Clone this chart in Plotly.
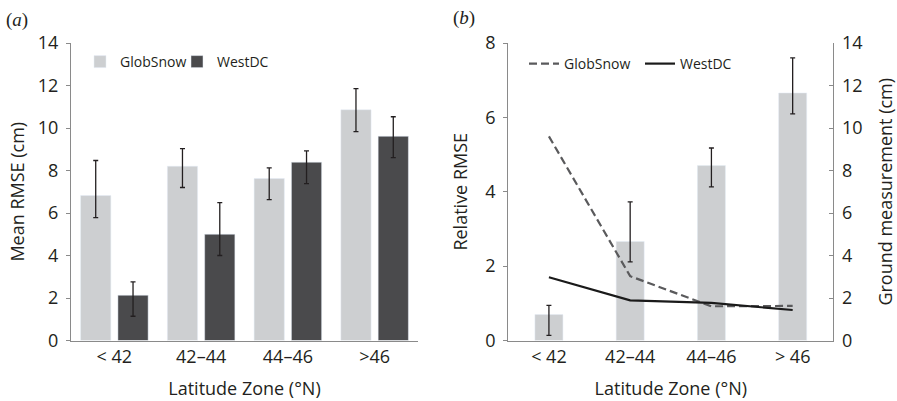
import plotly.graph_objects as go

# ---- data ----
zones_a = ["< 42", "42\u201344", "44\u201346", ">46"]
zones_b = ["< 42", "42\u201344", "44\u201346", "> 46"]

gs_rmse = [6.82, 8.20, 7.62, 10.86]
gs_err_plus = [1.65, 0.83, 0.50, 0.99]
gs_err_minus = [1.04, 1.00, 0.99, 1.03]

wd_rmse = [2.13, 5.00, 8.39, 9.61]
wd_err_plus = [0.63, 1.49, 0.53, 0.92]
wd_err_minus = [0.99, 1.00, 1.01, 1.00]

ground = [1.22, 4.66, 8.23, 11.65]
ground_err_plus = [0.43, 1.86, 0.83, 1.65]
ground_err_minus = [0.98, 0.96, 1.00, 0.99]

rel_gs = [5.49, 1.73, 0.92, 0.93]
rel_wd = [1.70, 1.08, 1.01, 0.82]

# ---- styles ----
LIGHT = "#cdcfd1"
DARK = "#4a4a4c"
TXT = "#231f20"
AX = "#8a8a8a"
FONT = "Open Sans"

W, H = 897, 401

def err(plus, minus):
    return dict(type="data", symmetric=False, array=plus, arrayminus=minus,
                color=TXT, thickness=1.3, width=2.5)

fig = go.Figure()

fig.add_trace(go.Bar(x=zones_a, y=gs_rmse, name="GlobSnow", marker_color=LIGHT,
                     error_y=err(gs_err_plus, gs_err_minus), xaxis="x", yaxis="y",
                     legend="legend"))
fig.add_trace(go.Bar(x=zones_a, y=wd_rmse, name="WestDC", marker_color=DARK,
                     error_y=err(wd_err_plus, wd_err_minus), xaxis="x", yaxis="y",
                     legend="legend"))

fig.add_trace(go.Bar(x=zones_b, y=ground, name="Ground", marker_color=LIGHT,
                     error_y=err(ground_err_plus, ground_err_minus),
                     xaxis="x2", yaxis="y2", showlegend=False, width=0.345))
fig.add_trace(go.Scatter(x=zones_b, y=rel_gs, name="GlobSnow", mode="lines",
                         line=dict(color="#5a5a5c", width=2.2, dash="8px,4px"),
                         xaxis="x2", yaxis="y3", legend="legend2"))
fig.add_trace(go.Scatter(x=zones_b, y=rel_wd, name="WestDC", mode="lines",
                         line=dict(color="#1a1a1a", width=2.2),
                         xaxis="x2", yaxis="y3", legend="legend2"))

ydom = [(H - 340.5) / H, (H - 43) / H]
tickf = dict(family=FONT, size=18, color=TXT)
titlef = dict(family=FONT, size=18, color=TXT)

common_x = dict(showline=True, linecolor=AX, linewidth=1.3, ticks="",
                tickfont=tickf, automargin=False, showgrid=False)
common_y = dict(showline=True, linecolor=AX, linewidth=1.3, ticklen=4,
                tickcolor=AX, showgrid=False, zeroline=False, tickfont=tickf,
                automargin=False, dtick=2, ticklabelstandoff=4)

fig.update_layout(
    width=W, height=H,
    margin=dict(l=0, r=0, t=0, b=0),
    paper_bgcolor="white", plot_bgcolor="white",
    font=dict(family=FONT, color=TXT),
    barmode="group", bargap=0.14, bargroupgap=0.19,
    xaxis=dict(domain=[71 / W, 418 / W], anchor="y", **common_x,
               title=dict(text="Latitude Zone (\u00b0N)", font=titlef, standoff=15)),
    yaxis=dict(domain=ydom, anchor="x", range=[0, 14], ticks="outside", **common_y,
               title=dict(text="Mean RMSE (cm)", font=titlef, standoff=8)),
    xaxis2=dict(domain=[508.3 / W, 833.3 / W], anchor="y2", **common_x,
                title=dict(text="Latitude Zone (\u00b0N)", font=titlef, standoff=15)),
    yaxis2=dict(domain=ydom, anchor="x2", side="right", range=[0, 14], ticks="inside",
                **common_y,
                title=dict(text="Ground measurement (cm)", font=titlef, standoff=18)),
    yaxis3=dict(overlaying="y2", anchor="x2", side="left", range=[0, 8],
                ticks="outside", **common_y,
                title=dict(text="Relative RMSE", font=titlef, standoff=12)),
    legend=dict(orientation="h", x=80 / W, y=(H - 62) / H, xanchor="left",
                yanchor="middle", font=dict(family=FONT, size=14, color=TXT),
                bgcolor="rgba(0,0,0,0)", itemwidth=30, entrywidth=52),
    legend2=dict(orientation="h", x=524 / W, y=(H - 64) / H, xanchor="left",
                 yanchor="middle", font=dict(family=FONT, size=14, color=TXT),
                 bgcolor="rgba(0,0,0,0)", itemwidth=30, entrywidth=71),
    annotations=[
        dict(text="(<i>a</i>)", x=4 / W, y=(H - 20) / H, xref="paper", yref="paper",
             xanchor="left", yanchor="middle", showarrow=False,
             font=dict(family="Liberation Serif", size=19, color=TXT)),
        dict(text="(<i>b</i>)", x=451 / W, y=(H - 18) / H, xref="paper", yref="paper",
             xanchor="left", yanchor="middle", showarrow=False,
             font=dict(family="Liberation Serif", size=19, color=TXT)),
    ],
)

fig.write_html("out.html")
